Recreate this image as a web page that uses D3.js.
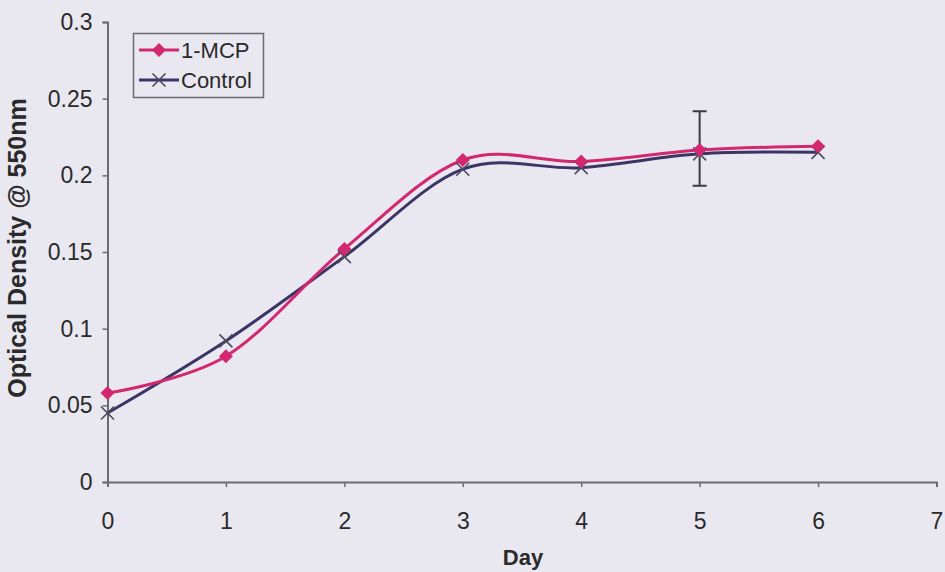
<!DOCTYPE html>
<html>
<head>
<meta charset="utf-8">
<script src="https://cdn.jsdelivr.net/npm/d3@7"></script>
<style>
  body { margin: 0; background: #e9e8f1; }
  text { font-family: Arial, "Liberation Sans", sans-serif; fill: #2a2a2a; }
</style>
</head>
<body>
<script>
const days = [0, 1, 2, 3, 4, 5, 6];
const mcp = [0.058, 0.082, 0.152, 0.210, 0.209, 0.2165, 0.219];
const control = [0.045, 0.092, 0.147, 0.204, 0.205, 0.214, 0.215];
// error bar on day 5 only
const errDay = 5;
const errVal = 0.2175;
const errHalf = 0.0243;
const xTicks = [0, 1, 2, 3, 4, 5, 6, 7];
const yTicks = [0, 0.05, 0.1, 0.15, 0.2, 0.25, 0.3];

const W = 945, H = 572;

const svg = d3.select('body')
  .append('svg')
  .attr('width', W)
  .attr('height', H);

//scales
let xScale = d3.scaleLinear().domain([0, 7]).range([107.5, 936.5]);
let yScale = d3.scaleLinear().domain([0, 0.3]).range([482, 22]);

//x axis
let xAxis = svg.append('g')
  .attr('transform', 'translate(0,482)')
  .call(d3.axisBottom(xScale).tickValues(xTicks).tickSize(5).tickPadding(26).tickFormat(d => d));

//y axis
let yAxis = svg.append('g')
  .attr('transform', 'translate(107.5,0)')
  .call(d3.axisLeft(yScale).tickValues(yTicks).tickSize(5).tickPadding(10).tickFormat(d => d));

[xAxis, yAxis].forEach(ax => {
  ax.select('.domain').attr('stroke', '#6a6a72').attr('stroke-width', 2);
  ax.selectAll('.tick line').attr('stroke', '#6a6a72').attr('stroke-width', 1.5);
  ax.selectAll('.tick text').style('font-size', '23px').attr('fill', '#2a2a2a');
});

//axis labels
svg.append('text')
  .attr('x', 523)
  .attr('y', 565)
  .attr('text-anchor', 'middle')
  .style('font-size', '22px')
  .style('font-weight', 'bold')
  .text('Day');

svg.append('text')
  .attr('transform', 'translate(26,248) rotate(-90)')
  .attr('text-anchor', 'middle')
  .style('font-size', '25px')
  .style('font-weight', 'bold')
  .text('Optical Density @ 550nm');

//lines
const curve = d3.curveCardinal.tension(0);
let line = vals => d3.line()
  .x((d, i) => xScale(days[i]))
  .y(d => yScale(d))
  .curve(curve)(vals);

// error bar
const ex = xScale(errDay);
svg.append('line')
  .attr('x1', ex).attr('x2', ex)
  .attr('y1', yScale(errVal + errHalf)).attr('y2', yScale(errVal - errHalf))
  .attr('stroke', '#3a3a40').attr('stroke-width', 2);
[errVal + errHalf, errVal - errHalf].forEach(v => {
  svg.append('line')
    .attr('x1', ex - 7).attr('x2', ex + 7)
    .attr('y1', yScale(v)).attr('y2', yScale(v))
    .attr('stroke', '#3a3a40').attr('stroke-width', 2);
});

svg.append('path')
  .attr('d', line(control))
  .attr('fill', 'none')
  .attr('stroke', '#3b3566')
  .attr('stroke-width', 3);

svg.append('path')
  .attr('d', line(mcp))
  .attr('fill', 'none')
  .attr('stroke', '#d3286f')
  .attr('stroke-width', 3);

function crossMark(g, x, y, r) {
  g.append('path')
    .attr('d', `M${x - r},${y - r}L${x + r},${y + r}M${x - r},${y + r}L${x + r},${y - r}`)
    .attr('stroke', '#4a4a60')
    .attr('stroke-width', 1.6)
    .attr('fill', 'none');
}
function diamondMark(g, x, y, r) {
  g.append('path')
    .attr('d', `M${x},${y - r}L${x + r},${y}L${x},${y + r}L${x - r},${y}Z`)
    .attr('fill', '#d3286f');
}

//markers
let marks = svg.append('g');
control.forEach((v, i) => crossMark(marks, xScale(days[i]), yScale(v), 6.5));
mcp.forEach((v, i) => diamondMark(marks, xScale(days[i]), yScale(v), 7));

//legend
let legend = svg.append('g');
legend.append('rect')
  .attr('x', 133.5).attr('y', 33.5)
  .attr('width', 130).attr('height', 64)
  .attr('fill', 'none')
  .attr('stroke', '#6a6a72')
  .attr('stroke-width', 1.5);

const legItems = [
  { name: '1-MCP', color: '#d3286f', mark: 'diamond', y: 50 },
  { name: 'Control', color: '#3b3566', mark: 'cross', y: 80 }
];
legItems.forEach(it => {
  legend.append('line')
    .attr('x1', 139).attr('x2', 179)
    .attr('y1', it.y).attr('y2', it.y)
    .attr('stroke', it.color).attr('stroke-width', 3);
  if (it.mark === 'diamond') diamondMark(legend, 159, it.y, 7);
  else crossMark(legend, 159, it.y, 6.5);
  legend.append('text')
    .attr('x', 181)
    .attr('y', it.y + 8)
    .style('font-size', '22px')
    .text(it.name);
});
</script>
</body>
</html>
